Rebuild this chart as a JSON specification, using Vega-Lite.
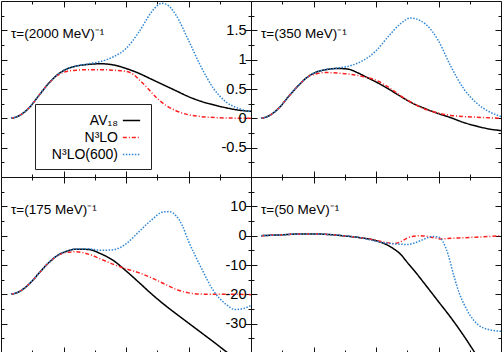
{
"$schema": "https://vega.github.io/schema/vega-lite/v6.json",
"padding": 0,
"background": "white",
"config": {
  "view": {"stroke": "#111", "strokeWidth": 1},
  "font": "Liberation Sans",
  "axis": {"domain": false, "grid": false, "tickColor": "#111", "tickWidth": 1, "labelFont": "Liberation Sans", "labelFontSize": 14.5, "labelColor": "black", "title": null}
},
"datasets": {"d": [
{"p":"a","s":"AV₁₈","x":0.16,"y":0},{"p":"a","s":"AV₁₈","x":0.3,"y":0.05},{"p":"a","s":"AV₁₈","x":0.45,"y":0.18},{"p":"a","s":"AV₁₈","x":0.6,"y":0.38},{"p":"a","s":"AV₁₈","x":0.75,"y":0.58},
{"p":"a","s":"AV₁₈","x":0.9,"y":0.74},{"p":"a","s":"AV₁₈","x":1.05,"y":0.84},{"p":"a","s":"AV₁₈","x":1.2,"y":0.89},{"p":"a","s":"AV₁₈","x":1.4,"y":0.92},{"p":"a","s":"AV₁₈","x":1.6,"y":0.93},{"p":"a","s":"AV₁₈","x":1.8,"y":0.91},{"p":"a","s":"AV₁₈","x":2.0,"y":0.85},{"p":"a","s":"AV₁₈","x":2.2,"y":0.77},{"p":"a","s":"AV₁₈","x":2.4,"y":0.67},{"p":"a","s":"AV₁₈","x":2.6,"y":0.57},{"p":"a","s":"AV₁₈","x":2.8,"y":0.47},{"p":"a","s":"AV₁₈","x":3.0,"y":0.37},{"p":"a","s":"AV₁₈","x":3.2,"y":0.29},{"p":"a","s":"AV₁₈","x":3.4,"y":0.23},{"p":"a","s":"AV₁₈","x":3.6,"y":0.18},{"p":"a","s":"AV₁₈","x":3.8,"y":0.14},{"p":"a","s":"AV₁₈","x":4.0,"y":0.12},
{"p":"a","s":"N³LO","x":0.16,"y":0},{"p":"a","s":"N³LO","x":0.3,"y":0.05},{"p":"a","s":"N³LO","x":0.45,"y":0.18},{"p":"a","s":"N³LO","x":0.6,"y":0.38},{"p":"a","s":"N³LO","x":0.75,"y":0.58},
{"p":"a","s":"N³LO","x":0.9,"y":0.73},{"p":"a","s":"N³LO","x":1.05,"y":0.80},{"p":"a","s":"N³LO","x":1.2,"y":0.82},{"p":"a","s":"N³LO","x":1.4,"y":0.83},{"p":"a","s":"N³LO","x":1.6,"y":0.83},{"p":"a","s":"N³LO","x":1.8,"y":0.82},{"p":"a","s":"N³LO","x":2.0,"y":0.80},{"p":"a","s":"N³LO","x":2.13,"y":0.74},{"p":"a","s":"N³LO","x":2.2,"y":0.67},{"p":"a","s":"N³LO","x":2.35,"y":0.51},{"p":"a","s":"N³LO","x":2.5,"y":0.34},{"p":"a","s":"N³LO","x":2.67,"y":0.20},{"p":"a","s":"N³LO","x":2.8,"y":0.13},{"p":"a","s":"N³LO","x":2.93,"y":0.08},{"p":"a","s":"N³LO","x":3.2,"y":0.03},{"p":"a","s":"N³LO","x":3.5,"y":0.01},{"p":"a","s":"N³LO","x":4.0,"y":0.0},
{"p":"a","s":"N³LO(600)","x":0.16,"y":0},{"p":"a","s":"N³LO(600)","x":0.3,"y":0.05},{"p":"a","s":"N³LO(600)","x":0.45,"y":0.18},{"p":"a","s":"N³LO(600)","x":0.6,"y":0.38},{"p":"a","s":"N³LO(600)","x":0.75,"y":0.58},
{"p":"a","s":"N³LO(600)","x":0.9,"y":0.74},{"p":"a","s":"N³LO(600)","x":1.05,"y":0.84},{"p":"a","s":"N³LO(600)","x":1.2,"y":0.89},{"p":"a","s":"N³LO(600)","x":1.4,"y":0.93},{"p":"a","s":"N³LO(600)","x":1.6,"y":0.97},{"p":"a","s":"N³LO(600)","x":1.8,"y":1.05},{"p":"a","s":"N³LO(600)","x":2.0,"y":1.19},{"p":"a","s":"N³LO(600)","x":2.2,"y":1.46},{"p":"a","s":"N³LO(600)","x":2.4,"y":1.8},{"p":"a","s":"N³LO(600)","x":2.5,"y":1.92},{"p":"a","s":"N³LO(600)","x":2.57,"y":1.96},{"p":"a","s":"N³LO(600)","x":2.65,"y":1.94},{"p":"a","s":"N³LO(600)","x":2.8,"y":1.76},{"p":"a","s":"N³LO(600)","x":3.0,"y":1.33},{"p":"a","s":"N³LO(600)","x":3.2,"y":0.88},{"p":"a","s":"N³LO(600)","x":3.4,"y":0.51},{"p":"a","s":"N³LO(600)","x":3.6,"y":0.28},{"p":"a","s":"N³LO(600)","x":3.8,"y":0.17},{"p":"a","s":"N³LO(600)","x":4.0,"y":0.11},

{"p":"b","s":"AV₁₈","x":0.16,"y":0},{"p":"b","s":"AV₁₈","x":0.3,"y":0.05},{"p":"b","s":"AV₁₈","x":0.45,"y":0.18},{"p":"b","s":"AV₁₈","x":0.6,"y":0.37},{"p":"b","s":"AV₁₈","x":0.75,"y":0.55},
{"p":"b","s":"AV₁₈","x":0.9,"y":0.70},{"p":"b","s":"AV₁₈","x":1.05,"y":0.79},{"p":"b","s":"AV₁₈","x":1.2,"y":0.83},{"p":"b","s":"AV₁₈","x":1.4,"y":0.85},{"p":"b","s":"AV₁₈","x":1.55,"y":0.84},{"p":"b","s":"AV₁₈","x":1.7,"y":0.78},{"p":"b","s":"AV₁₈","x":1.85,"y":0.70},{"p":"b","s":"AV₁₈","x":2.0,"y":0.62},{"p":"b","s":"AV₁₈","x":2.2,"y":0.50},{"p":"b","s":"AV₁₈","x":2.4,"y":0.37},{"p":"b","s":"AV₁₈","x":2.6,"y":0.25},{"p":"b","s":"AV₁₈","x":2.8,"y":0.16},{"p":"b","s":"AV₁₈","x":3.0,"y":0.08},{"p":"b","s":"AV₁₈","x":3.2,"y":0.01},{"p":"b","s":"AV₁₈","x":3.4,"y":-0.07},{"p":"b","s":"AV₁₈","x":3.6,"y":-0.13},{"p":"b","s":"AV₁₈","x":3.8,"y":-0.18},{"p":"b","s":"AV₁₈","x":4.0,"y":-0.21},
{"p":"b","s":"N³LO","x":0.16,"y":0},{"p":"b","s":"N³LO","x":0.3,"y":0.05},{"p":"b","s":"N³LO","x":0.45,"y":0.18},{"p":"b","s":"N³LO","x":0.6,"y":0.37},{"p":"b","s":"N³LO","x":0.75,"y":0.55},
{"p":"b","s":"N³LO","x":0.9,"y":0.70},{"p":"b","s":"N³LO","x":1.05,"y":0.76},{"p":"b","s":"N³LO","x":1.2,"y":0.78},{"p":"b","s":"N³LO","x":1.4,"y":0.77},{"p":"b","s":"N³LO","x":1.6,"y":0.75},{"p":"b","s":"N³LO","x":1.8,"y":0.71},{"p":"b","s":"N³LO","x":2.0,"y":0.65},{"p":"b","s":"N³LO","x":2.2,"y":0.53},{"p":"b","s":"N³LO","x":2.4,"y":0.38},{"p":"b","s":"N³LO","x":2.6,"y":0.25},{"p":"b","s":"N³LO","x":2.8,"y":0.15},{"p":"b","s":"N³LO","x":3.0,"y":0.09},{"p":"b","s":"N³LO","x":3.2,"y":0.05},{"p":"b","s":"N³LO","x":3.4,"y":0.03},{"p":"b","s":"N³LO","x":3.6,"y":0.02},{"p":"b","s":"N³LO","x":3.8,"y":0.01},{"p":"b","s":"N³LO","x":4.0,"y":0.0},
{"p":"b","s":"N³LO(600)","x":0.16,"y":0},{"p":"b","s":"N³LO(600)","x":0.3,"y":0.05},{"p":"b","s":"N³LO(600)","x":0.45,"y":0.18},{"p":"b","s":"N³LO(600)","x":0.6,"y":0.37},{"p":"b","s":"N³LO(600)","x":0.75,"y":0.55},
{"p":"b","s":"N³LO(600)","x":0.9,"y":0.70},{"p":"b","s":"N³LO(600)","x":1.05,"y":0.79},{"p":"b","s":"N³LO(600)","x":1.2,"y":0.83},{"p":"b","s":"N³LO(600)","x":1.4,"y":0.86},{"p":"b","s":"N³LO(600)","x":1.6,"y":0.90},{"p":"b","s":"N³LO(600)","x":1.8,"y":0.99},{"p":"b","s":"N³LO(600)","x":2.0,"y":1.15},{"p":"b","s":"N³LO(600)","x":2.2,"y":1.40},{"p":"b","s":"N³LO(600)","x":2.4,"y":1.62},{"p":"b","s":"N³LO(600)","x":2.55,"y":1.71},{"p":"b","s":"N³LO(600)","x":2.7,"y":1.67},{"p":"b","s":"N³LO(600)","x":2.8,"y":1.60},{"p":"b","s":"N³LO(600)","x":3.0,"y":1.32},{"p":"b","s":"N³LO(600)","x":3.2,"y":0.88},{"p":"b","s":"N³LO(600)","x":3.4,"y":0.51},{"p":"b","s":"N³LO(600)","x":3.6,"y":0.27},{"p":"b","s":"N³LO(600)","x":3.8,"y":0.12},{"p":"b","s":"N³LO(600)","x":4.0,"y":0.03},

{"p":"c","s":"AV₁₈","x":0.16,"y":-20},{"p":"c","s":"AV₁₈","x":0.3,"y":-19},{"p":"c","s":"AV₁₈","x":0.45,"y":-16.5},{"p":"c","s":"AV₁₈","x":0.6,"y":-13},{"p":"c","s":"AV₁₈","x":0.75,"y":-9.5},
{"p":"c","s":"AV₁₈","x":0.9,"y":-6.8},{"p":"c","s":"AV₁₈","x":1.05,"y":-5.3},{"p":"c","s":"AV₁₈","x":1.2,"y":-4.6},{"p":"c","s":"AV₁₈","x":1.4,"y":-4.7},{"p":"c","s":"AV₁₈","x":1.6,"y":-6.2},{"p":"c","s":"AV₁₈","x":1.8,"y":-8.5},{"p":"c","s":"AV₁₈","x":2.0,"y":-12},{"p":"c","s":"AV₁₈","x":2.2,"y":-15.8},{"p":"c","s":"AV₁₈","x":2.4,"y":-19.7},{"p":"c","s":"AV₁₈","x":2.6,"y":-23.3},{"p":"c","s":"AV₁₈","x":2.8,"y":-26.6},{"p":"c","s":"AV₁₈","x":3.0,"y":-29.8},{"p":"c","s":"AV₁₈","x":3.2,"y":-33},{"p":"c","s":"AV₁₈","x":3.4,"y":-36.2},{"p":"c","s":"AV₁₈","x":3.6,"y":-39.5},{"p":"c","s":"AV₁₈","x":3.8,"y":-42.7},
{"p":"c","s":"N³LO","x":0.16,"y":-20},{"p":"c","s":"N³LO","x":0.3,"y":-19},{"p":"c","s":"N³LO","x":0.45,"y":-16.5},{"p":"c","s":"N³LO","x":0.6,"y":-13},{"p":"c","s":"N³LO","x":0.75,"y":-9.5},
{"p":"c","s":"N³LO","x":0.9,"y":-6.9},{"p":"c","s":"N³LO","x":1.05,"y":-5.7},{"p":"c","s":"N³LO","x":1.2,"y":-5.5},{"p":"c","s":"N³LO","x":1.4,"y":-6.3},{"p":"c","s":"N³LO","x":1.6,"y":-8.0},{"p":"c","s":"N³LO","x":1.8,"y":-9.8},{"p":"c","s":"N³LO","x":2.0,"y":-11.3},{"p":"c","s":"N³LO","x":2.2,"y":-12.6},{"p":"c","s":"N³LO","x":2.4,"y":-14.3},{"p":"c","s":"N³LO","x":2.6,"y":-16.3},{"p":"c","s":"N³LO","x":2.8,"y":-18.3},{"p":"c","s":"N³LO","x":3.0,"y":-19.5},{"p":"c","s":"N³LO","x":3.2,"y":-19.9},{"p":"c","s":"N³LO","x":3.4,"y":-20},{"p":"c","s":"N³LO","x":3.6,"y":-20},{"p":"c","s":"N³LO","x":3.8,"y":-20},{"p":"c","s":"N³LO","x":4.0,"y":-20.1},
{"p":"c","s":"N³LO(600)","x":0.16,"y":-20},{"p":"c","s":"N³LO(600)","x":0.3,"y":-19},{"p":"c","s":"N³LO(600)","x":0.45,"y":-16.5},{"p":"c","s":"N³LO(600)","x":0.6,"y":-13},{"p":"c","s":"N³LO(600)","x":0.75,"y":-9.5},
{"p":"c","s":"N³LO(600)","x":0.9,"y":-6.8},{"p":"c","s":"N³LO(600)","x":1.05,"y":-5.3},{"p":"c","s":"N³LO(600)","x":1.2,"y":-4.6},{"p":"c","s":"N³LO(600)","x":1.4,"y":-4.5},{"p":"c","s":"N³LO(600)","x":1.6,"y":-5.0},{"p":"c","s":"N³LO(600)","x":1.8,"y":-4.8},{"p":"c","s":"N³LO(600)","x":2.0,"y":-2.8},{"p":"c","s":"N³LO(600)","x":2.2,"y":1.2},{"p":"c","s":"N³LO(600)","x":2.4,"y":5.2},{"p":"c","s":"N³LO(600)","x":2.6,"y":8.1},{"p":"c","s":"N³LO(600)","x":2.7,"y":8.2},{"p":"c","s":"N³LO(600)","x":2.8,"y":6.8},{"p":"c","s":"N³LO(600)","x":2.9,"y":3.5},{"p":"c","s":"N³LO(600)","x":3.0,"y":-1.9},{"p":"c","s":"N³LO(600)","x":3.1,"y":-6.5},{"p":"c","s":"N³LO(600)","x":3.2,"y":-10.8},{"p":"c","s":"N³LO(600)","x":3.4,"y":-18.8},{"p":"c","s":"N³LO(600)","x":3.6,"y":-23.4},{"p":"c","s":"N³LO(600)","x":3.75,"y":-25.2},{"p":"c","s":"N³LO(600)","x":3.9,"y":-24.7},{"p":"c","s":"N³LO(600)","x":4.0,"y":-23.8},

{"p":"d","s":"AV₁₈","x":0.16,"y":0},{"p":"d","s":"AV₁₈","x":0.5,"y":0.3},{"p":"d","s":"AV₁₈","x":0.8,"y":0.6},{"p":"d","s":"AV₁₈","x":1.0,"y":0.6},{"p":"d","s":"AV₁₈","x":1.3,"y":0.3},{"p":"d","s":"AV₁₈","x":1.5,"y":-0.1},{"p":"d","s":"AV₁₈","x":1.75,"y":-0.7},
{"p":"d","s":"AV₁₈","x":2.0,"y":-1.7},{"p":"d","s":"AV₁₈","x":2.24,"y":-3.9},{"p":"d","s":"AV₁₈","x":2.4,"y":-6.5},{"p":"d","s":"AV₁₈","x":2.5,"y":-9.1},{"p":"d","s":"AV₁₈","x":2.6,"y":-11.6},{"p":"d","s":"AV₁₈","x":2.8,"y":-17},{"p":"d","s":"AV₁₈","x":3.0,"y":-22.5},{"p":"d","s":"AV₁₈","x":3.2,"y":-28},{"p":"d","s":"AV₁₈","x":3.4,"y":-34},{"p":"d","s":"AV₁₈","x":3.6,"y":-40.5},{"p":"d","s":"AV₁₈","x":3.8,"y":-47},
{"p":"d","s":"N³LO","x":0.16,"y":0},{"p":"d","s":"N³LO","x":0.5,"y":0.3},{"p":"d","s":"N³LO","x":0.8,"y":0.6},{"p":"d","s":"N³LO","x":1.0,"y":0.6},{"p":"d","s":"N³LO","x":1.3,"y":0.3},{"p":"d","s":"N³LO","x":1.5,"y":-0.1},{"p":"d","s":"N³LO","x":1.75,"y":-0.7},
{"p":"d","s":"N³LO","x":2.0,"y":-1.6},{"p":"d","s":"N³LO","x":2.15,"y":-2.3},{"p":"d","s":"N³LO","x":2.3,"y":-2.7},{"p":"d","s":"N³LO","x":2.4,"y":-2.0},{"p":"d","s":"N³LO","x":2.5,"y":-0.8},{"p":"d","s":"N³LO","x":2.6,"y":-0.2},{"p":"d","s":"N³LO","x":2.7,"y":0.0},{"p":"d","s":"N³LO","x":2.8,"y":-0.2},{"p":"d","s":"N³LO","x":2.9,"y":-0.6},{"p":"d","s":"N³LO","x":3.05,"y":-1.1},{"p":"d","s":"N³LO","x":3.2,"y":-0.9},{"p":"d","s":"N³LO","x":3.4,"y":-0.7},{"p":"d","s":"N³LO","x":3.6,"y":-0.5},{"p":"d","s":"N³LO","x":3.8,"y":-0.3},{"p":"d","s":"N³LO","x":4.0,"y":0.0},
{"p":"d","s":"N³LO(600)","x":0.16,"y":0},{"p":"d","s":"N³LO(600)","x":0.5,"y":0.3},{"p":"d","s":"N³LO(600)","x":0.8,"y":0.6},{"p":"d","s":"N³LO(600)","x":1.0,"y":0.6},{"p":"d","s":"N³LO(600)","x":1.3,"y":0.3},{"p":"d","s":"N³LO(600)","x":1.5,"y":-0.1},{"p":"d","s":"N³LO(600)","x":1.75,"y":-0.7},
{"p":"d","s":"N³LO(600)","x":2.0,"y":-1.9},{"p":"d","s":"N³LO(600)","x":2.15,"y":-2.5},{"p":"d","s":"N³LO(600)","x":2.3,"y":-2.8},{"p":"d","s":"N³LO(600)","x":2.5,"y":-3.0},{"p":"d","s":"N³LO(600)","x":2.6,"y":-2.6},{"p":"d","s":"N³LO(600)","x":2.7,"y":-1.8},{"p":"d","s":"N³LO(600)","x":2.8,"y":-0.9},{"p":"d","s":"N³LO(600)","x":2.9,"y":-0.3},{"p":"d","s":"N³LO(600)","x":3.0,"y":-0.5},{"p":"d","s":"N³LO(600)","x":3.07,"y":-2.0},{"p":"d","s":"N³LO(600)","x":3.15,"y":-6.2},{"p":"d","s":"N³LO(600)","x":3.25,"y":-14},{"p":"d","s":"N³LO(600)","x":3.33,"y":-19.5},{"p":"d","s":"N³LO(600)","x":3.41,"y":-23.4},{"p":"d","s":"N³LO(600)","x":3.5,"y":-27},{"p":"d","s":"N³LO(600)","x":3.63,"y":-30.3},{"p":"d","s":"N³LO(600)","x":3.8,"y":-32},{"p":"d","s":"N³LO(600)","x":4.0,"y":-32.6}
]},
"data": {"name": "d"},
"spacing": 0,
"bounds": "flush",
"columns": 2,
"concat": [
  {"width": 250, "height": 176,
   "title": {"text": "τ=(2000 MeV)⁻¹", "anchor": "start", "frame": "group", "offset": -51, "dx": 10, "fontSize": 13.5, "fontWeight": "normal", "font": "Liberation Sans", "baseline": "alphabetic", "color": "black"},
   "transform": [{"filter": "datum.p == 'a'"}],
   "resolve": {"axis": {"x": "independent", "y": "independent"}},
   "layer": [
    {"mark": {"type": "line", "interpolate": "monotone", "strokeWidth": 1.5, "clip": true},
     "encoding": {
      "x": {"field": "x", "type": "quantitative", "scale": {"domain": [0, 4], "nice": false, "zero": false}, "axis": {"orient": "bottom", "values": [1, 2, 3], "tickSize": -6, "labels": false, "title": null}},
      "y": {"field": "y", "type": "quantitative", "scale": {"domain": [-1, 2], "nice": false, "zero": false}, "axis": {"orient": "left", "values": [-0.5, 0, 0.5, 1, 1.5], "tickSize": -6, "labels": false, "title": null}},
      "color": {"field": "s", "type": "nominal", "scale": {"domain": ["AV₁₈", "N³LO", "N³LO(600)"], "range": ["#000000", "#ff2020", "#2f86d4"]},
        "legend": {"title": null, "orient": "none", "legendX": 34, "legendY": 103, "symbolType": "stroke", "symbolSize": 300, "symbolStrokeWidth": 1.5, "symbolOffset": 80, "labelFont": "Liberation Sans", "labelFontSize": 14, "labelColor": "black", "labelAlign": "right", "labelOffset": -23, "strokeColor": "#222", "padding": 7, "rowPadding": 0, "labelLimit": 200}},
      "strokeDash": {"field": "s", "type": "nominal", "scale": {"domain": ["AV₁₈", "N³LO", "N³LO(600)"], "range": [[1, 0], [4, 2, 1, 2], [1.5, 1.5]]},
        "legend": {"title": null, "orient": "none", "legendX": 34, "legendY": 103, "symbolType": "stroke", "symbolSize": 300, "symbolStrokeWidth": 1.5, "symbolOffset": 80, "labelFont": "Liberation Sans", "labelFontSize": 14, "labelColor": "black", "labelAlign": "right", "labelOffset": -23, "strokeColor": "#222", "padding": 7, "rowPadding": 0, "labelLimit": 200}}
     }},
    {"mark": {"type": "point", "opacity": 0, "size": 0, "clip": true},
     "encoding": {
      "x": {"field": "x", "type": "quantitative", "scale": {"domain": [0, 4], "nice": false, "zero": false}, "axis": {"orient": "top", "values": [1, 2, 3], "tickSize": -6, "labels": false, "title": null}},
      "y": {"field": "y", "type": "quantitative", "scale": {"domain": [-1, 2], "nice": false, "zero": false}, "axis": {"orient": "right", "values": [-0.5, 0, 0.5, 1, 1.5], "tickSize": -6, "labels": false, "title": null}}}},
    {"mark": {"type": "point", "opacity": 0, "size": 0, "clip": true},
     "encoding": {
      "x": {"field": "x", "type": "quantitative", "scale": {"domain": [0, 4], "nice": false, "zero": false}, "axis": {"orient": "bottom", "values": [0.5, 1.5, 2.5, 3.5], "tickSize": -3, "labels": false, "title": null}},
      "y": {"field": "y", "type": "quantitative", "scale": {"domain": [-1, 2], "nice": false, "zero": false}, "axis": {"orient": "left", "values": [-0.75, -0.25, 0.25, 0.75, 1.25, 1.75], "tickSize": -3, "labels": false, "title": null}}}},
    {"mark": {"type": "point", "opacity": 0, "size": 0, "clip": true},
     "encoding": {
      "x": {"field": "x", "type": "quantitative", "scale": {"domain": [0, 4], "nice": false, "zero": false}, "axis": {"orient": "top", "values": [0.5, 1.5, 2.5, 3.5], "tickSize": -3, "labels": false, "title": null}},
      "y": {"field": "y", "type": "quantitative", "scale": {"domain": [-1, 2], "nice": false, "zero": false}, "axis": {"orient": "right", "values": [-0.75, -0.25, 0.25, 0.75, 1.25, 1.75], "tickSize": -3, "labels": false, "title": null}}}}
   ]},
  {"width": 250, "height": 176,
   "title": {"text": "τ=(350 MeV)⁻¹", "anchor": "start", "frame": "group", "offset": -51, "dx": 10, "fontSize": 13.5, "fontWeight": "normal", "font": "Liberation Sans", "baseline": "alphabetic", "color": "black"},
   "transform": [{"filter": "datum.p == 'b'"}],
   "resolve": {"axis": {"x": "independent", "y": "independent"}},
   "layer": [
    {"mark": {"type": "line", "interpolate": "monotone", "strokeWidth": 1.5, "clip": true},
     "encoding": {
      "x": {"field": "x", "type": "quantitative", "scale": {"domain": [0, 4], "nice": false, "zero": false}, "axis": {"orient": "bottom", "values": [1, 2, 3], "tickSize": -6, "labels": false, "title": null}},
      "y": {"field": "y", "type": "quantitative", "scale": {"domain": [-1, 2], "nice": false, "zero": false}, "axis": {"orient": "left", "values": [-0.5, 0, 0.5, 1, 1.5], "tickSize": -6, "labels": true, "labelPadding": 11, "labelExpr": "datum.value + ''", "title": null}},
      "color": {"field": "s", "type": "nominal", "scale": {"domain": ["AV₁₈", "N³LO", "N³LO(600)"], "range": ["#000000", "#ff2020", "#2f86d4"]}},
      "strokeDash": {"field": "s", "type": "nominal", "scale": {"domain": ["AV₁₈", "N³LO", "N³LO(600)"], "range": [[1, 0], [4, 2, 1, 2], [1.5, 1.5]]}}
     }},
    {"mark": {"type": "point", "opacity": 0, "size": 0, "clip": true},
     "encoding": {
      "x": {"field": "x", "type": "quantitative", "scale": {"domain": [0, 4], "nice": false, "zero": false}, "axis": {"orient": "top", "values": [1, 2, 3], "tickSize": -6, "labels": false, "title": null}},
      "y": {"field": "y", "type": "quantitative", "scale": {"domain": [-1, 2], "nice": false, "zero": false}, "axis": {"orient": "right", "values": [-0.5, 0, 0.5, 1, 1.5], "tickSize": -6, "labels": false, "title": null}}}},
    {"mark": {"type": "point", "opacity": 0, "size": 0, "clip": true},
     "encoding": {
      "x": {"field": "x", "type": "quantitative", "scale": {"domain": [0, 4], "nice": false, "zero": false}, "axis": {"orient": "bottom", "values": [0.5, 1.5, 2.5, 3.5], "tickSize": -3, "labels": false, "title": null}},
      "y": {"field": "y", "type": "quantitative", "scale": {"domain": [-1, 2], "nice": false, "zero": false}, "axis": {"orient": "left", "values": [-0.75, -0.25, 0.25, 0.75, 1.25, 1.75], "tickSize": -3, "labels": false, "title": null}}}},
    {"mark": {"type": "point", "opacity": 0, "size": 0, "clip": true},
     "encoding": {
      "x": {"field": "x", "type": "quantitative", "scale": {"domain": [0, 4], "nice": false, "zero": false}, "axis": {"orient": "top", "values": [0.5, 1.5, 2.5, 3.5], "tickSize": -3, "labels": false, "title": null}},
      "y": {"field": "y", "type": "quantitative", "scale": {"domain": [-1, 2], "nice": false, "zero": false}, "axis": {"orient": "right", "values": [-0.75, -0.25, 0.25, 0.75, 1.25, 1.75], "tickSize": -3, "labels": false, "title": null}}}}
   ]},
  {"width": 250, "height": 176,
   "title": {"text": "τ=(175 MeV)⁻¹", "anchor": "start", "frame": "group", "offset": -51, "dx": 10, "fontSize": 13.5, "fontWeight": "normal", "font": "Liberation Sans", "baseline": "alphabetic", "color": "black"},
   "transform": [{"filter": "datum.p == 'c'"}],
   "resolve": {"axis": {"x": "independent", "y": "independent"}},
   "layer": [
    {"mark": {"type": "line", "interpolate": "monotone", "strokeWidth": 1.5, "clip": true},
     "encoding": {
      "x": {"field": "x", "type": "quantitative", "scale": {"domain": [0, 4], "nice": false, "zero": false}, "axis": {"orient": "bottom", "values": [1, 2, 3], "tickSize": -6, "labels": false, "title": null}},
      "y": {"field": "y", "type": "quantitative", "scale": {"domain": [-40, 20], "nice": false, "zero": false}, "axis": {"orient": "left", "values": [-30, -20, -10, 0, 10], "tickSize": -6, "labels": false, "title": null}},
      "color": {"field": "s", "type": "nominal", "scale": {"domain": ["AV₁₈", "N³LO", "N³LO(600)"], "range": ["#000000", "#ff2020", "#2f86d4"]}},
      "strokeDash": {"field": "s", "type": "nominal", "scale": {"domain": ["AV₁₈", "N³LO", "N³LO(600)"], "range": [[1, 0], [4, 2, 1, 2], [1.5, 1.5]]}}
     }},
    {"mark": {"type": "point", "opacity": 0, "size": 0, "clip": true},
     "encoding": {
      "x": {"field": "x", "type": "quantitative", "scale": {"domain": [0, 4], "nice": false, "zero": false}, "axis": {"orient": "top", "values": [1, 2, 3], "tickSize": -6, "labels": false, "title": null}},
      "y": {"field": "y", "type": "quantitative", "scale": {"domain": [-40, 20], "nice": false, "zero": false}, "axis": {"orient": "right", "values": [-30, -20, -10, 0, 10], "tickSize": -6, "labels": false, "title": null}}}},
    {"mark": {"type": "point", "opacity": 0, "size": 0, "clip": true},
     "encoding": {
      "x": {"field": "x", "type": "quantitative", "scale": {"domain": [0, 4], "nice": false, "zero": false}, "axis": {"orient": "bottom", "values": [0.5, 1.5, 2.5, 3.5], "tickSize": -3, "labels": false, "title": null}},
      "y": {"field": "y", "type": "quantitative", "scale": {"domain": [-40, 20], "nice": false, "zero": false}, "axis": {"orient": "left", "values": [-35, -25, -15, -5, 5, 15], "tickSize": -3, "labels": false, "title": null}}}},
    {"mark": {"type": "point", "opacity": 0, "size": 0, "clip": true},
     "encoding": {
      "x": {"field": "x", "type": "quantitative", "scale": {"domain": [0, 4], "nice": false, "zero": false}, "axis": {"orient": "top", "values": [0.5, 1.5, 2.5, 3.5], "tickSize": -3, "labels": false, "title": null}},
      "y": {"field": "y", "type": "quantitative", "scale": {"domain": [-40, 20], "nice": false, "zero": false}, "axis": {"orient": "right", "values": [-35, -25, -15, -5, 5, 15], "tickSize": -3, "labels": false, "title": null}}}}
   ]},
  {"width": 250, "height": 176,
   "title": {"text": "τ=(50 MeV)⁻¹", "anchor": "start", "frame": "group", "offset": -51, "dx": 10, "fontSize": 13.5, "fontWeight": "normal", "font": "Liberation Sans", "baseline": "alphabetic", "color": "black"},
   "transform": [{"filter": "datum.p == 'd'"}],
   "resolve": {"axis": {"x": "independent", "y": "independent"}},
   "layer": [
    {"mark": {"type": "line", "interpolate": "monotone", "strokeWidth": 1.5, "clip": true},
     "encoding": {
      "x": {"field": "x", "type": "quantitative", "scale": {"domain": [0, 4], "nice": false, "zero": false}, "axis": {"orient": "bottom", "values": [1, 2, 3], "tickSize": -6, "labels": false, "title": null}},
      "y": {"field": "y", "type": "quantitative", "scale": {"domain": [-40, 20], "nice": false, "zero": false}, "axis": {"orient": "left", "values": [-30, -20, -10, 0, 10], "tickSize": -6, "labels": true, "labelPadding": 11, "labelExpr": "datum.value + ''", "title": null}},
      "color": {"field": "s", "type": "nominal", "scale": {"domain": ["AV₁₈", "N³LO", "N³LO(600)"], "range": ["#000000", "#ff2020", "#2f86d4"]}},
      "strokeDash": {"field": "s", "type": "nominal", "scale": {"domain": ["AV₁₈", "N³LO", "N³LO(600)"], "range": [[1, 0], [4, 2, 1, 2], [1.5, 1.5]]}}
     }},
    {"mark": {"type": "point", "opacity": 0, "size": 0, "clip": true},
     "encoding": {
      "x": {"field": "x", "type": "quantitative", "scale": {"domain": [0, 4], "nice": false, "zero": false}, "axis": {"orient": "top", "values": [1, 2, 3], "tickSize": -6, "labels": false, "title": null}},
      "y": {"field": "y", "type": "quantitative", "scale": {"domain": [-40, 20], "nice": false, "zero": false}, "axis": {"orient": "right", "values": [-30, -20, -10, 0, 10], "tickSize": -6, "labels": false, "title": null}}}},
    {"mark": {"type": "point", "opacity": 0, "size": 0, "clip": true},
     "encoding": {
      "x": {"field": "x", "type": "quantitative", "scale": {"domain": [0, 4], "nice": false, "zero": false}, "axis": {"orient": "bottom", "values": [0.5, 1.5, 2.5, 3.5], "tickSize": -3, "labels": false, "title": null}},
      "y": {"field": "y", "type": "quantitative", "scale": {"domain": [-40, 20], "nice": false, "zero": false}, "axis": {"orient": "left", "values": [-35, -25, -15, -5, 5, 15], "tickSize": -3, "labels": false, "title": null}}}},
    {"mark": {"type": "point", "opacity": 0, "size": 0, "clip": true},
     "encoding": {
      "x": {"field": "x", "type": "quantitative", "scale": {"domain": [0, 4], "nice": false, "zero": false}, "axis": {"orient": "top", "values": [0.5, 1.5, 2.5, 3.5], "tickSize": -3, "labels": false, "title": null}},
      "y": {"field": "y", "type": "quantitative", "scale": {"domain": [-40, 20], "nice": false, "zero": false}, "axis": {"orient": "right", "values": [-35, -25, -15, -5, 5, 15], "tickSize": -3, "labels": false, "title": null}}}}
   ]}
]
}
